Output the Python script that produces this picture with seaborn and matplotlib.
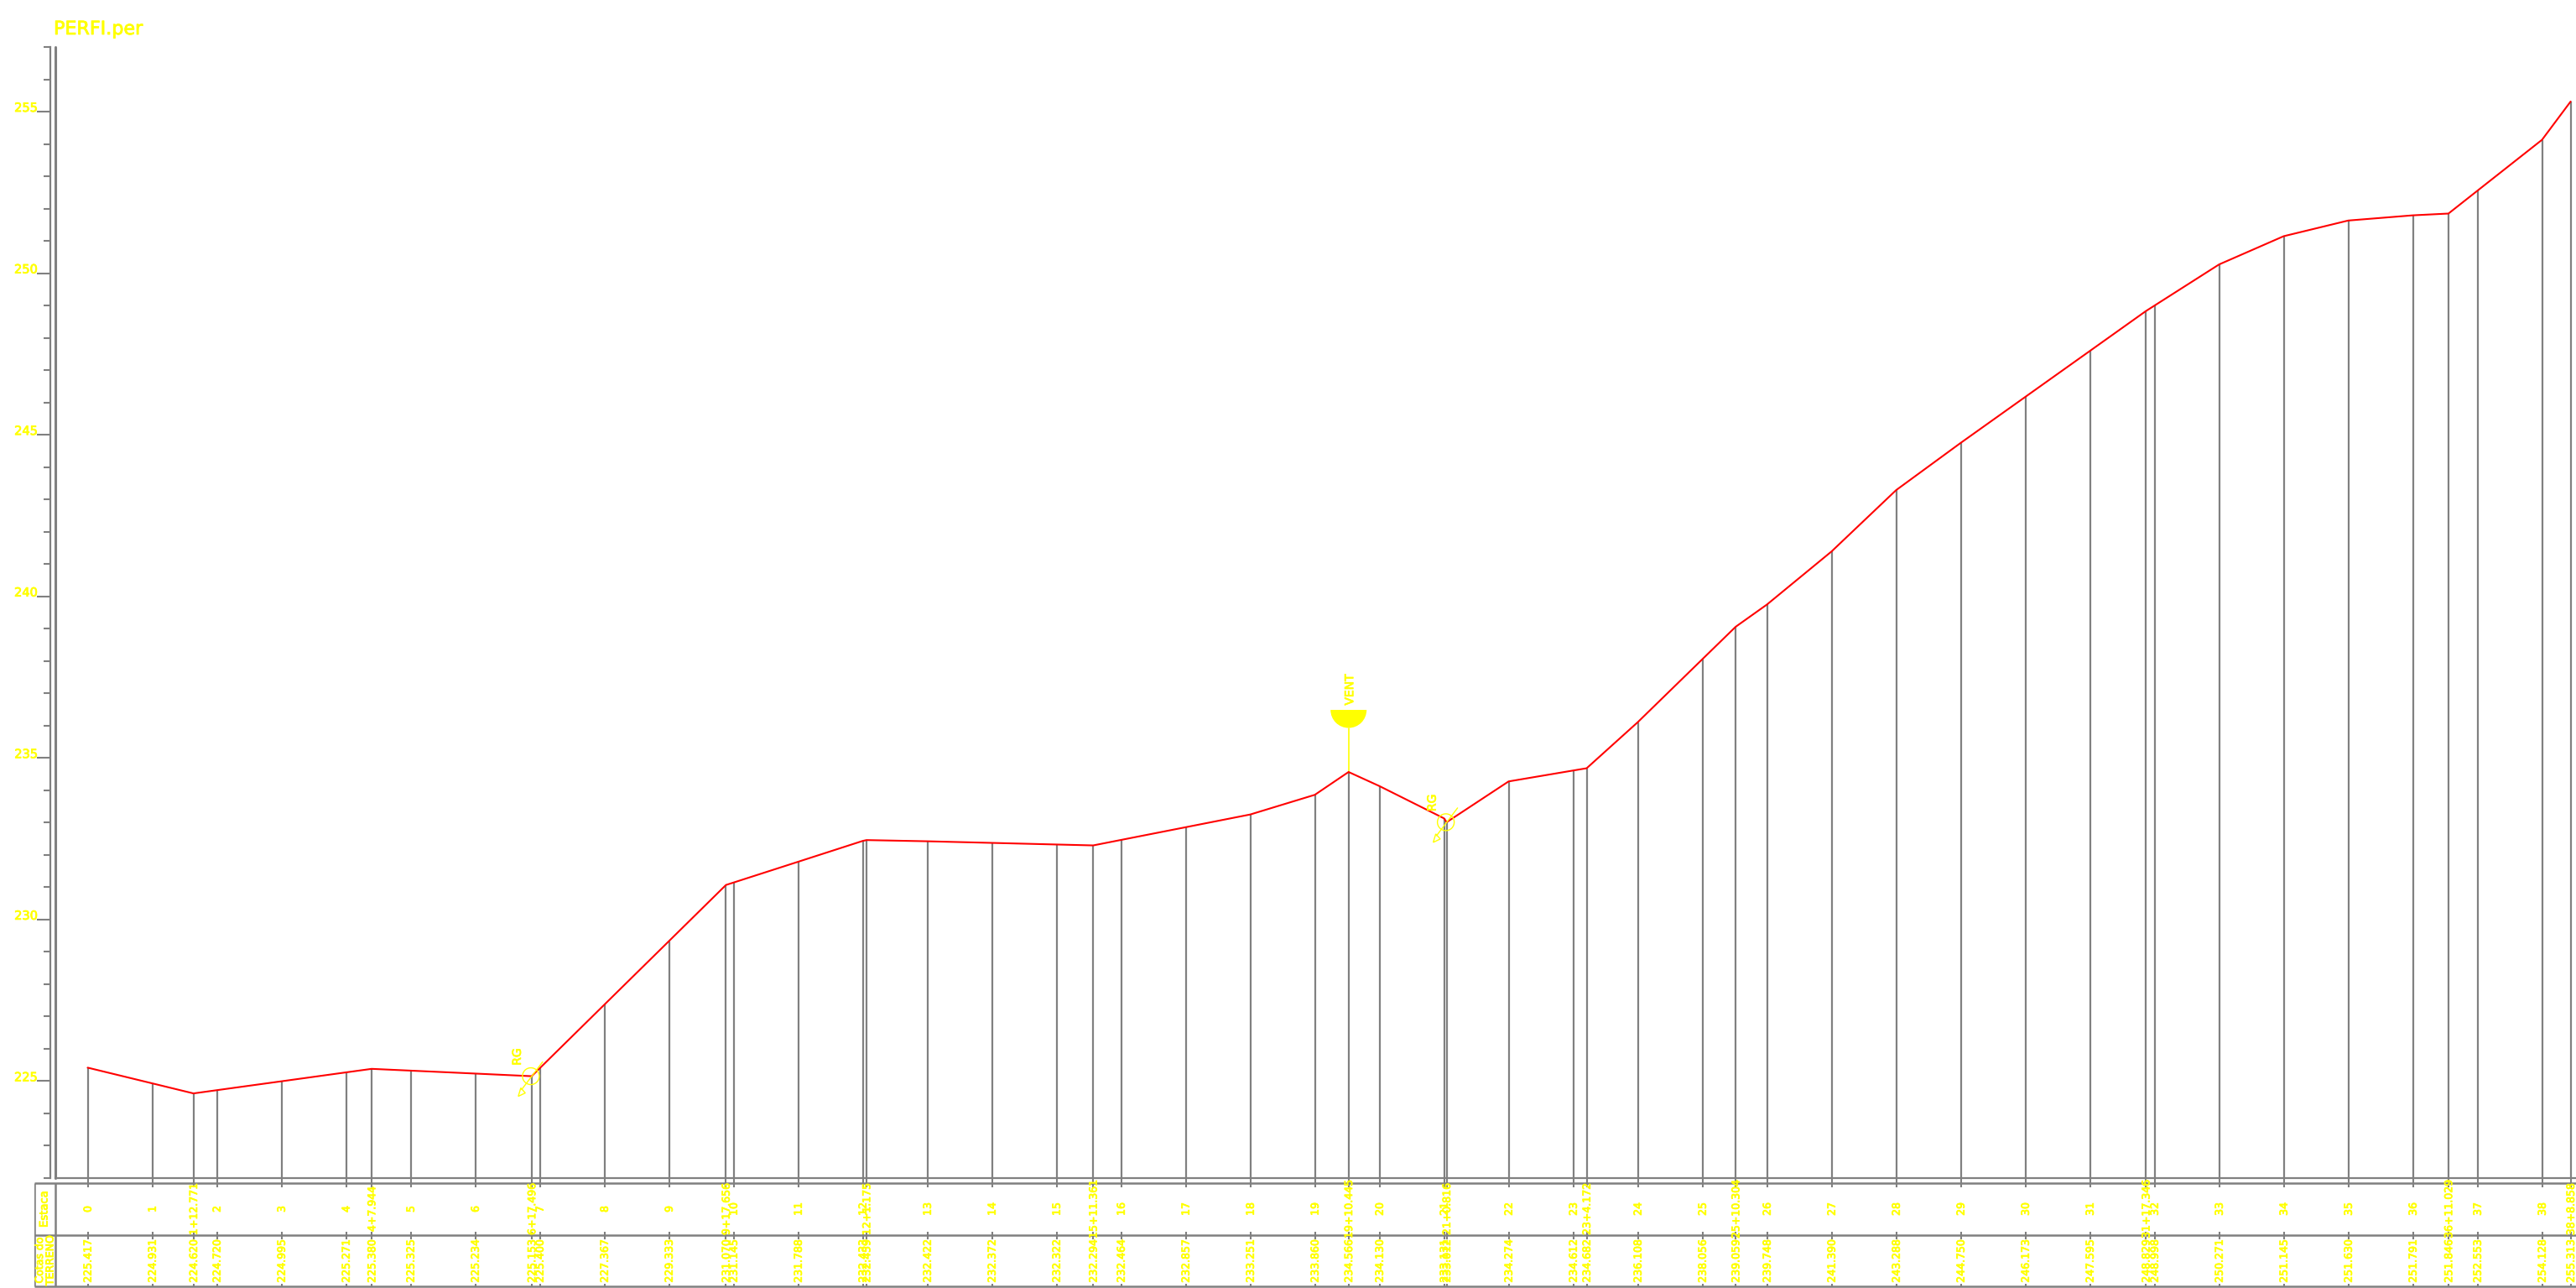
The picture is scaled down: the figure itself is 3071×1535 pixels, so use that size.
import matplotlib
matplotlib.use("Agg")
import matplotlib.pyplot as plt
import matplotlib.patheffects as pe
import seaborn as sns
from matplotlib.text import Text
from matplotlib.ticker import MultipleLocator
from matplotlib.patches import Wedge, Circle, Polygon
from matplotlib.transforms import Affine2D

stations = ["0","1","1+12.771","2","3","4","4+7.944","5","6","6+17.496","7","8","9","9+17.656","10","11",
            "12","12+1.175","13","14","15","15+11.361","16","17","18","19","19+10.445","20","21","21+0.816",
            "22","23","23+4.172","24","25","25+10.304","26","27","28","29","30","31","31+17.346","32","33",
            "34","35","36","36+11.029","37","38","38+8.858"]
distance = [0,20,32.771,40,60,80,87.944,100,120,137.496,140,160,180,197.656,200,220,
            240,241.175,260,280,300,311.361,320,340,360,380,390.445,400,420,420.816,
            440,460,464.172,480,500,510.304,520,540,560,580,600,620,637.346,640,660,
            680,700,720,731.029,740,760,768.858]
terrain = [225.417,224.931,224.620,224.720,224.995,225.271,225.380,225.325,225.234,225.153,225.400,227.367,229.333,231.070,231.145,231.788,
           232.433,232.459,232.422,232.372,232.322,232.294,232.464,232.857,233.251,233.860,234.566,234.130,233.131,233.012,
           234.274,234.612,234.682,236.108,238.056,239.059,239.748,241.390,243.288,244.750,246.173,247.595,248.829,248.998,250.271,
           251.145,251.630,251.791,251.846,252.553,254.128,255.313]
vent_station = "19+10.445"
rg_stations = ["6+17.496", "21+0.816"]

W, H, GRAY, YEL = 3071, 1535, "#808080", "#FFFF00"
sns.set_style("white")
plt.rcParams["font.family"] = ["DejaVu Sans"]

fig = plt.figure(figsize=(W / 100, H / 100), dpi=100, facecolor="white")
PX_M = 3.85
X0 = 104.5
def box(l, t, r, b):
    return [l / W, (H - b) / H, (r - l) / W, (b - t) / H]
def xrange_for(l, r):
    return ((l - X0) / PX_M, (r - X0) / PX_M)

ax = fig.add_axes(box(66, 56, W, 1404))
ax.set_facecolor("none")
ax.vlines(distance, 222, terrain, color=GRAY, lw=1.6, zorder=1)
sns.lineplot(x=distance, y=terrain, ax=ax, color="#FF0000", lw=1.5, sort=False, estimator=None, errorbar=None, zorder=3)
ax.set_xlim(*xrange_for(66, W))
ax.set_ylim(222, 257)
ax.set_xlabel(""); ax.set_ylabel("")
ax.set_xticks([])
for s in ("top", "right"):
    ax.spines[s].set_visible(False)
ax.spines["bottom"].set_color(GRAY); ax.spines["bottom"].set_linewidth(1.6)
ax.spines["left"].set_color(GRAY); ax.spines["left"].set_linewidth(1.6)
ax.spines["left"].set_position(("outward", 6 * 0.72))
ax.axvline(ax.get_xlim()[0], color=GRAY, lw=2.2, zorder=1, clip_on=False)
ax.yaxis.set_major_locator(MultipleLocator(5))
ax.yaxis.set_minor_locator(MultipleLocator(1))
ax.tick_params(axis="y", which="major", left=True, length=11.5, width=1.5, color=GRAY, labelcolor=YEL, labelsize=10.5, pad=-0.7)
ax.tick_params(axis="y", which="minor", left=True, length=5.8, width=1.5, color=GRAY)
for t in ax.get_yticklabels():
    t.set_va("baseline")

# Symbols anchored on the profile, sized in pixels
def anchor(name):
    i = stations.index(name)
    return ax.transData.transform((distance[i], terrain[i]))

vx, vy = anchor(vent_station)
vt = Affine2D().translate(vx, vy)
ax.add_patch(Wedge((0, 74), 21.5, 180, 360, color=YEL, lw=0, transform=vt, zorder=4, clip_on=False))
ax.plot([0, 0], [0, 52], color=YEL, lw=1.2, transform=vt, zorder=2, clip_on=False)
ax.text(1.5, 98, "VENT", rotation=90, color=YEL, fontsize=10, ha="center", va="center", transform=vt)

for name in rg_stations:
    rx, ry = anchor(name)
    rt = Affine2D().translate(rx, ry)
    ax.add_patch(Circle((-1, 0), 10, fill=False, ec=YEL, lw=1.0, transform=rt, zorder=4, clip_on=False))
    ax.plot([13, -12], [17, -16], color=YEL, lw=1.0, transform=rt, zorder=4, clip_on=False)
    ax.add_patch(Polygon([(-16, -24), (-7.6, -20), (-13, -14)], closed=True, fill=False, ec=YEL, lw=1.0,
                         transform=rt, zorder=4, clip_on=False))
    ax.text(-17, 23, "RG", rotation=90, color=YEL, fontsize=10, ha="center", va="center", transform=rt)

# Table under the profile
tb = fig.add_axes(box(41, 1404, W, H))
tb.set_axis_off()
tb.set_xlim(*xrange_for(41, W))
tb.set_ylim(H, 1404)
x_left = tb.get_xlim()[0]
x_inner = (66 - X0) / PX_M
row_y = [1410, 1472, 1533]
for y in row_y:
    tb.hlines(y, x_left, tb.get_xlim()[1], color=GRAY, lw=1.8)
tb.vlines([x_left, x_inner], row_y[0], row_y[-1], color=GRAY, lw=1.8)
tb.vlines(distance, 1404, 1415, color=GRAY, lw=1.5)
tb.vlines(distance, 1468, 1477, color=GRAY, lw=1.5)
tb.vlines(distance, 1530, row_y[-1], color=GRAY, lw=1.5)
for d, s, z in zip(distance, stations, terrain):
    tb.text(d + 0.2, 1441, s, rotation=90, color=YEL, fontsize=9, ha="center", va="center", clip_on=True)
    tb.text(d + 0.2, 1503, f"{z:.3f}", rotation=90, color=YEL, fontsize=9, ha="center", va="center", clip_on=True)
tb.text((53 - X0) / PX_M, 1441, "Estaca", rotation=90, color=YEL, fontsize=9.5, ha="center", va="center")
tb.text((47.5 - X0) / PX_M, 1502, "Cotas do", rotation=90, color=YEL, fontsize=9, ha="center", va="center")
tb.text((60 - X0) / PX_M, 1502, "TERRENO", rotation=90, color=YEL, fontsize=9, ha="center", va="center")

fig.text(64 / W, 1 - 41 / H, "PERFI.per", color=YEL, fontsize=16, ha="left", va="baseline")

# The reference lettering has heavier strokes than the regular face
for t in fig.findobj(Text):
    t.set_path_effects([pe.withStroke(linewidth=0.6, foreground=YEL)])

fig.savefig("out.png", dpi=100, facecolor="white")
